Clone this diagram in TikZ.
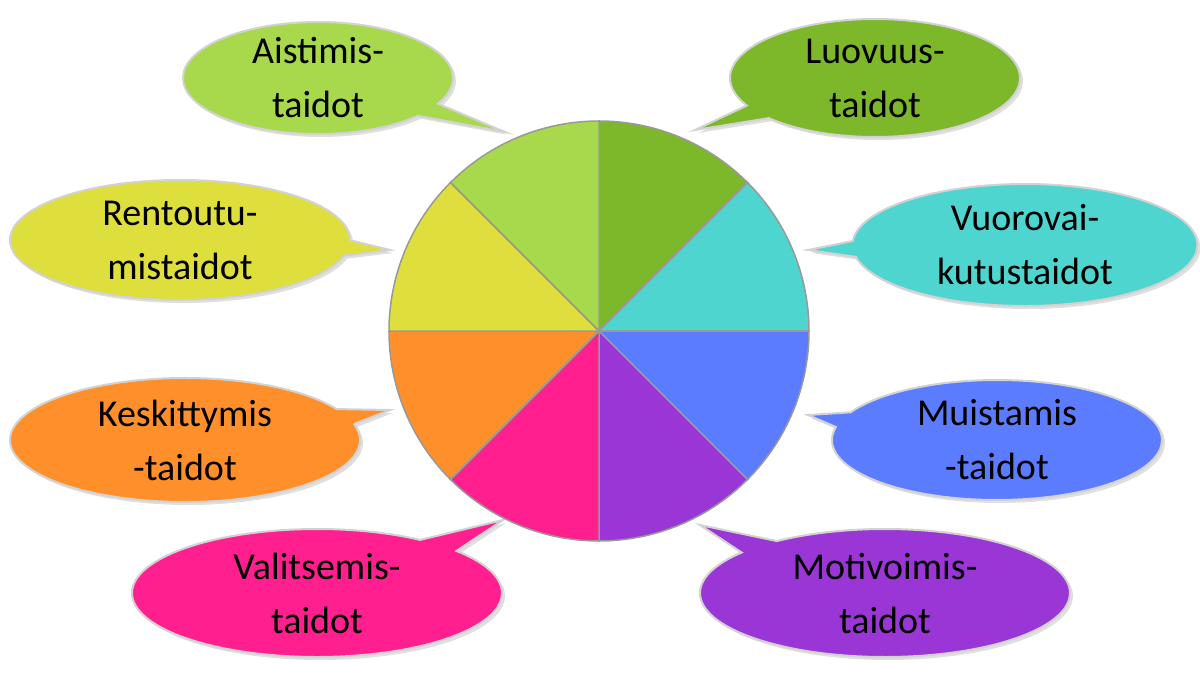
\documentclass[tikz,border=0pt]{standalone}
\usepackage{fontspec}
\setmainfont{Carlito}
\usetikzlibrary{shapes.callouts,shadows}
\definecolor{cLuo}{HTML}{7DB82A}
\definecolor{cVuo}{HTML}{4FD5D0}
\definecolor{cMui}{HTML}{5B7CFF}
\definecolor{cMot}{HTML}{9B36D6}
\definecolor{cVal}{HTML}{FF1F8E}
\definecolor{cKes}{HTML}{FF8F2A}
\definecolor{cRen}{HTML}{DEDE3C}
\definecolor{cAis}{HTML}{A8D84B}
\tikzset{
  bubble/.style={ellipse callout, draw=gray!35, line width=2pt, inner sep=0pt,
    drop shadow={opacity=0.25, shadow xshift=3pt, shadow yshift=-3pt}},
  lbl/.style={font=\fontsize{38}{54}\selectfont, align=center, text=black},
  sector/.style={draw=gray!80, line width=1.5pt}
}
\begin{document}
\begin{tikzpicture}[x=1pt,y=-1pt]
\useasboundingbox (0,0) rectangle (1200,688);
\coordinate (c) at (599,331);
\coordinate (tA) at (505,132);
\coordinate (tL) at (695,130);
\coordinate (tR) at (390,250);
\coordinate (tV) at (808,250);
\coordinate (tK) at (390,410);
\coordinate (tM) at (808,415);
\coordinate (tVa) at (503,520);
\coordinate (tMo) at (700,525);
\node[bubble, fill=cAis, minimum width=270pt, minimum height=112pt, callout absolute pointer=(tA)] (bA) at (318,78) {};
\node[bubble, fill=cLuo, minimum width=290pt, minimum height=118pt, callout absolute pointer=(tL)] (bL) at (875,78) {};
\node[bubble, fill=cRen, minimum width=340pt, minimum height=120pt, callout absolute pointer=(tR)] (bR) at (180,240) {};
\node[bubble, fill=cVuo, minimum width=345pt, minimum height=122pt, callout absolute pointer=(tV)] (bV) at (1025,245) {};
\node[bubble, fill=cKes, minimum width=350pt, minimum height=124pt, callout absolute pointer=(tK)] (bK) at (185,440) {};
\node[bubble, fill=cMui, minimum width=330pt, minimum height=120pt, callout absolute pointer=(tM)] (bM) at (997,440) {};
\node[bubble, fill=cVal, minimum width=370pt, minimum height=128pt, callout absolute pointer=(tVa)] (bVa) at (317,593) {};
\node[bubble, fill=cMot, minimum width=370pt, minimum height=128pt, callout absolute pointer=(tMo)] (bMo) at (885,593) {};
\node[lbl] (lA) at (bA) {Aistimis-\\taidot};
\node[lbl] (lL) at (bL) {Luovuus-\\taidot};
\node[lbl] (lR) at (bR) {Rentoutu-\\mistaidot};
\node[lbl] (lV) at (bV) {Vuorovai-\\kutustaidot};
\node[lbl] (lK) at (bK) {Keskittymis\\-taidot};
\node[lbl] (lM) at (bM) {Muistamis\\-taidot};
\node[lbl] (lVa) at (bVa) {Valitsemis-\\taidot};
\node[lbl] (lMo) at (bMo) {Motivoimis-\\taidot};
\foreach \a/\col in {45/cLuo,0/cVuo,-45/cMui,-90/cMot,-135/cVal,180/cKes,135/cRen,90/cAis}{
  \draw[sector, fill=\col] (c) -- ++(\a:210pt) arc[start angle=\a, delta angle=45, radius=210pt] -- cycle;
}
\end{tikzpicture}
\end{document}
